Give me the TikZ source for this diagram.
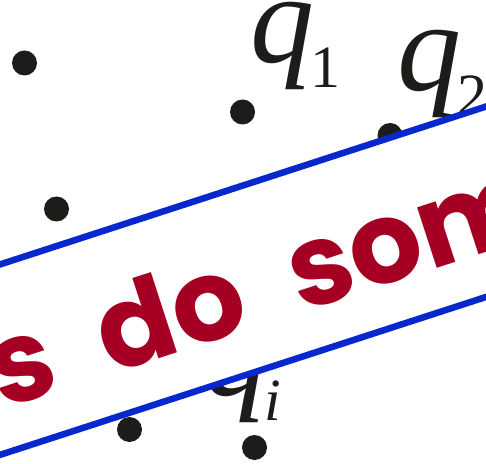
\documentclass[tikz,border=0pt]{standalone}
\usepackage{fontspec}
\setmainfont{Liberation Serif}
\newfontfamily\bandfont{Poppins}
\usetikzlibrary{positioning}
\definecolor{ink}{RGB}{30,27,27}
\definecolor{bandblue}{RGB}{8,40,205}
\definecolor{crimson}{RGB}{165,0,35}
\tikzset{
  charge/.style={circle,fill=ink,inner sep=0pt,minimum size=25pt},
  qlabel/.style={anchor=base west,inner sep=0pt,text=ink,font=\fontsize{128}{128}\selectfont},
  edge/.style={draw=bandblue,line width=6.5pt},
  stamp/.style={anchor=base west,inner sep=0pt,text=crimson,font=\bandfont\bfseries\fontsize{114}{114}\selectfont}
}
\newcommand\qsub[1]{\textit{q}\kern-4pt\raisebox{-25pt}{\fontsize{60}{60}\selectfont #1}}

\begin{document}
\begin{tikzpicture}[x=1pt,y=1pt]
\useasboundingbox (0,0) rectangle (486,463);
% point charges
\node[charge] (c1) at (24.5,400) {};
\node[charge] (c2) at (242.5,351) {};
\node[charge] (c3) at (390,327.5) {};
\node[charge] (c4) at (56.5,254) {};
\node[charge] (c5) at (129.5,33.5) {};
\node[charge] (c6) at (254.5,15.5) {};
\node[qlabel] (q1) at (250,400) {\qsub{1}};
\node[qlabel] (q2) at (397,372) {\qsub{2}};
\node[qlabel] (qi) at (204,68) {\qsub{\itshape i}};
% tilted banner
\begin{scope}
\clip (0,0) rectangle (486,463);
\begin{scope}[shift={(0,463)},rotate=18]
\coordinate (tl) at (-300,-251.5);
\coordinate (tr) at (700,-251.5);
\coordinate (bl) at (-300,-432.6);
\coordinate (br) at (700,-432.6);
\fill[white] (tl) rectangle (br);
\draw[edge] (tl) -- (tr);
\draw[edge] (bl) -- (br);
\node[stamp,rotate=18] (txt) at (-124,-390) {\spaceskip=50pt\relax s do som};
\end{scope}
\end{scope}
\end{tikzpicture}
\end{document}
